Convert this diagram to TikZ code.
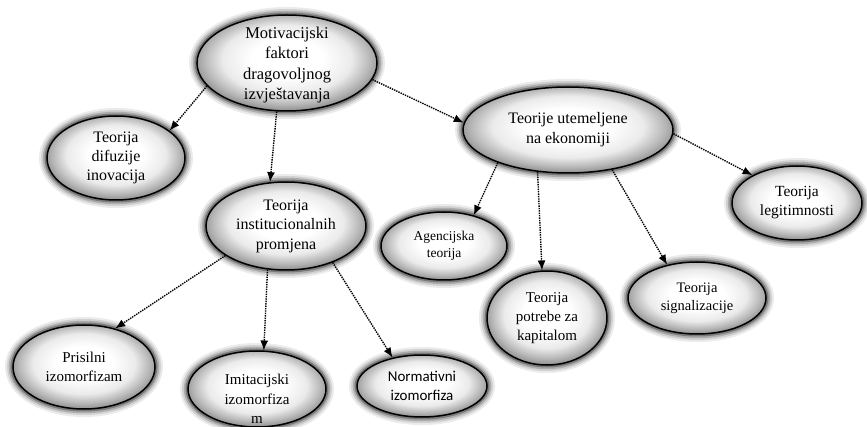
\documentclass[tikz,border=0pt]{standalone}
\usepackage{fontspec}
\setmainfont{Liberation Serif}
\newfontfamily\tms{Liberation Serif}
\newfontfamily\carl{Carlito}
\usetikzlibrary{shapes.geometric,arrows.meta}
\newcommand\myfs[2]{\fontsize{#1}{#2}\selectfont}
\pgfdeclareradialshading{bubble}{\pgfpoint{0bp}{3bp}}{color(0bp)=(white); color(10bp)=(white); color(18bp)=(black!8); color(23bp)=(black!28); color(26bp)=(black!42); color(50bp)=(black!42)}
\tikzset{
  bub/.style={ellipse, draw=black, line width=1.5pt, shade, shading=bubble, inner sep=0pt,
    preaction={draw=black!8, line width=16pt},
    preaction={draw=black!18, line width=12pt},
    preaction={draw=black!32, line width=8.5pt},
    preaction={draw=black!52, line width=5pt}},
  txt/.style={align=center, inner sep=0pt, text=black},
  conn/.style={densely dotted, line width=1.4pt, draw=black, -{Latex[length=10pt,width=8pt]}}
}
\begin{document}
\begin{tikzpicture}[x=1pt,y=-1pt]
\useasboundingbox (0,0) rectangle (867,427);
\fill[white] (0,0) rectangle (867,427);

\node[bub, minimum width=180pt, minimum height=96pt,
  label={[txt,font=\tms\myfs{16.5}{20.5},yshift=-2pt]center:Motivacijski\\faktori\\dragovoljnog\\izvještavanja}] (mot) at (287,63) {};
\node[bub, minimum width=138pt, minimum height=84pt,
  label={[txt,font=\tms\myfs{16}{19}]center:Teorija\\difuzije\\inovacija}] (dif) at (116,158) {};
\node[bub, minimum width=210pt, minimum height=86pt,
  label={[txt,font=\tms\myfs{16}{20}]center:Teorije utemeljene\\na ekonomiji}] (eco) at (568,130) {};
\node[bub, minimum width=160pt, minimum height=88pt,
  label={[txt,font=\tms\myfs{16}{19.5}]center:Teorija\\institucionalnih\\promjena}] (ins) at (286,226) {};
\node[bub, minimum width=130pt, minimum height=74pt,
  label={[txt,font=\tms\myfs{15.5}{19}]center:Teorija\\legitimnosti}] (leg) at (797,203) {};
\node[bub, minimum width=126pt, minimum height=68pt,
  label={[txt,font=\tms\myfs{13.5}{17}]center:Agencijska\\teorija}] (age) at (444,246) {};
\node[bub, minimum width=120pt, minimum height=94pt,
  label={[txt,font=\tms\myfs{15}{19}]center:Teorija\\potrebe za\\kapitalom}] (kap) at (547,318) {};
\node[bub, minimum width=138pt, minimum height=72pt,
  label={[txt,font=\tms\myfs{14.5}{18}]center:Teorija\\signalizacije}] (sig) at (697,298) {};
\node[bub, minimum width=142pt, minimum height=84pt,
  label={[txt,font=\tms\myfs{15}{19}]center:Prisilni\\izomorfizam}] (pri) at (84,367) {};
\node[bub, minimum width=138pt, minimum height=76pt,
  label={[txt,font=\tms\myfs{15}{19.5},yshift=-10pt]center:Imitacijski\\izomorfiza\\m}] (imi) at (257,389) {};
\node[bub, minimum width=130pt, minimum height=62pt,
  label={[txt,font=\carl\myfs{15}{19}]center:Normativni\\izomorfiza}] (nor) at (422,386) {};

\draw[conn] (mot.196) -- (dif.27);
\draw[conn] (mot.258) -- (ins.110);
\draw[conn] (mot.349) -- (eco.176);
\draw[conn] (eco.358) -- (leg.148);
\draw[conn] (eco.205) -- (age.46);
\draw[conn] (eco.234) -- (kap.96);
\draw[conn] (eco.318) -- (sig.132);
\draw[conn] (ins.206) -- (pri.51);
\draw[conn] (ins.247) -- (imi.80);
\draw[conn] (ins.322) -- (nor.136);
\end{tikzpicture}
\end{document}
